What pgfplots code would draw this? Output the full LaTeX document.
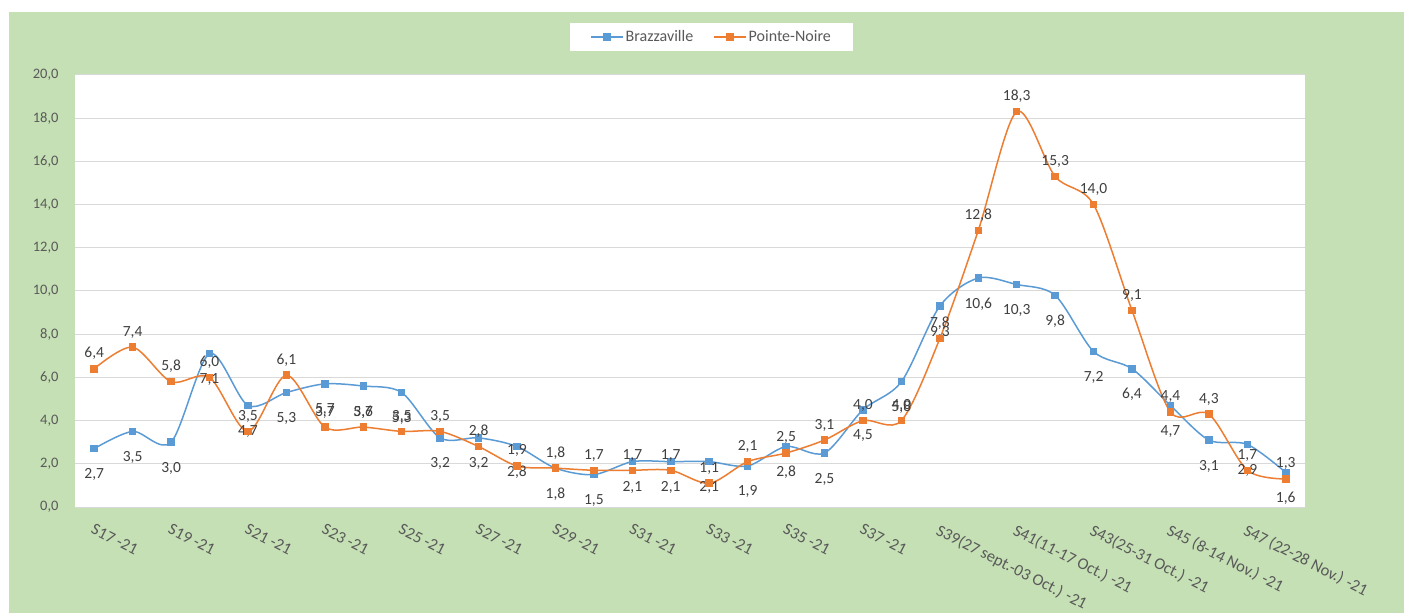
\documentclass[border=0pt]{standalone}
\usepackage{pgfplots}
\pgfplotsset{compat=1.18}
\usepackage{pgfplotstable}
\usepackage{fontspec}
\setmainfont{Carlito}

\definecolor{bzv}{HTML}{5B9BD5}
\definecolor{pnr}{HTML}{ED7D31}
\definecolor{bg}{HTML}{C5E0B4}
\definecolor{gridc}{HTML}{D9D9D9}
\definecolor{txt}{HTML}{595959}
\definecolor{lbl}{HTML}{404040}

% semaine (0 = S17-21) ; Brazzaville ; Pointe-Noire
\pgfplotstableread{
i  bzv  pnr
0  2.7  6.4
1  3.5  7.4
2  3.0  5.8
3  7.1  6.0
4  4.7  3.5
5  5.3  6.1
6  5.7  3.7
7  5.6  3.7
8  5.3  3.5
9  3.2  3.5
10 3.2  2.8
11 2.8  1.9
12 1.8  1.8
13 1.5  1.7
14 2.1  1.7
15 2.1  1.7
16 2.1  1.1
17 1.9  2.1
18 2.8  2.5
19 2.5  3.1
20 4.5  4.0
21 5.8  4.0
22 9.3  7.8
23 10.6 12.8
24 10.3 18.3
25 9.8  15.3
26 7.2  14.0
27 6.4  9.1
28 4.7  4.4
29 3.1  4.3
30 2.9  1.7
31 1.6  1.3
}\data

\pgfplotsset{/pgf/number format/assume math mode=true}

\begin{document}
\begin{tikzpicture}
\fill[white] (0,0) rectangle (1404bp,613bp);
\fill[bg] (9bp,0) rectangle (1404bp,601bp);
\begin{axis}[
    at={(75bp,106bp)}, anchor=south west,
    scale only axis,
    width=1230bp, height=432bp,
    axis background/.style={fill=white},
    xmin=-0.5, xmax=31.5,
    ymin=0, ymax=20,
    ytick={0,2,...,20},
    xtick={0,2,...,30},
    xticklabels={{S17 -21},{S19 -21},{S21 -21},{S23 -21},{S25 -21},{S27 -21},{S29 -21},{S31 -21},{S33 -21},{S35 -21},{S37 -21},{S39(27 sept.-03 Oct.) -21},{S41(11-17 Oct.) -21},{S43(25-31 Oct.) -21},{S45 (8-14 Nov.) -21},{S47 (22-28 Nov.) -21}},
    major tick length=0pt,
    axis line style={draw=none},
    ymajorgrids=true,
    grid style={gridc, line width=1bp},
    yticklabel style={/pgf/number format/.cd, fixed, fixed zerofill, precision=1, use comma,
        /tikz/.cd, font=\fontsize{14.5bp}{16bp}\selectfont, text=txt, anchor=east, xshift=-13bp},
    xticklabel style={rotate=-27, anchor=north west, inner sep=0pt,
        font=\fontsize{16.5bp}{18bp}\selectfont, text=txt, xshift=8bp, yshift=-14bp},
    clip=false,
    nodes near coords={\pgfmathprintnumber[fixed, fixed zerofill, precision=1, use comma]{\pgfplotspointmeta}},
    every node near coord/.append style={font=\fontsize{15.5bp}{17bp}\selectfont, text=lbl, inner sep=0pt},
    legend columns=2,
    legend style={at={(axis description cs:0.5175,1.088)}, anchor=center,
        draw=none, fill=white, font=\fontsize{16bp}{18bp}\selectfont, text=txt,
        inner xsep=20bp, inner ysep=6bp,
        /tikz/every even column/.append style={column sep=18bp}},
    legend image code/.code={\draw[#1, mark repeat=2, mark phase=2] plot coordinates {(0bp,0bp)(16bp,0bp)(32bp,0bp)};},
]
\addplot[smooth, color=bzv, line width=1.5bp, mark=square*, mark size=3bp,
    mark options={solid},
    every node near coord/.append style={anchor=base, yshift=-30bp}]
    table[x=i, y=bzv] {\data};
\addlegendentry{Brazzaville}
\addplot[smooth, color=pnr, line width=1.5bp, mark=square*, mark size=3bp,
    mark options={solid},
    every node near coord/.append style={anchor=base, yshift=11bp}]
    table[x=i, y=pnr] {\data};
\addlegendentry{Pointe-Noire}
\end{axis}
\end{tikzpicture}
\end{document}
